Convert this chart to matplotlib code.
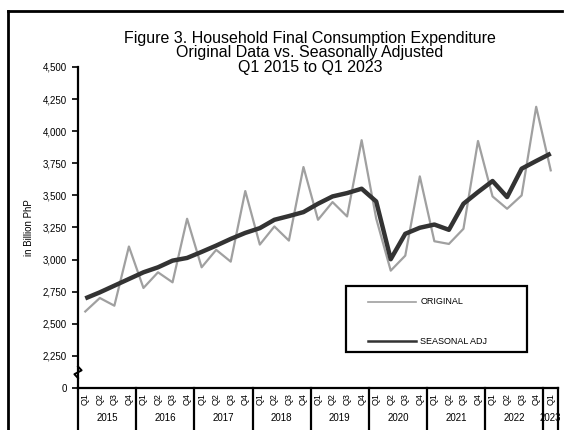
import matplotlib
matplotlib.use('Agg')
import matplotlib.pyplot as plt
from matplotlib.lines import Line2D
from matplotlib.patches import Rectangle
import matplotlib.transforms as mtransforms

plt.rcParams['font.family'] = ['Liberation Sans', 'DejaVu Sans']

years = ['2015', '2016', '2017', '2018', '2019', '2020', '2021', '2022', '2023']
quarters = ['Q1', 'Q2', 'Q3', 'Q4']

original = [2596, 2701, 2641, 3102,
            2779, 2901, 2823, 3318,
            2940, 3076, 2984, 3534,
            3117, 3258, 3148, 3721,
            3310, 3448, 3336, 3930,
            3320, 2914, 3031, 3648,
            3143, 3122, 3240, 3924,
            3492, 3396, 3500, 4190,
            3695]
seasonal = [2698, 2745, 2797, 2849,
            2901, 2940, 2992, 3013,
            3060, 3109, 3161, 3208,
            3245, 3310, 3339, 3370,
            3435, 3492, 3518, 3552,
            3453, 3003, 3201, 3248,
            3273, 3232, 3435, 3526,
            3612, 3487, 3708, 3768,
            3826]
series_names = ['ORIGINAL', 'SEASONAL ADJ']

# y axis is broken: the bottom tick stands for 0
ytick_pos = [2000, 2250, 2500, 2750, 3000, 3250, 3500, 3750, 4000, 4250, 4500]
ytick_lab = ['0', '2,250', '2,500', '2,750', '3,000', '3,250', '3,500',
             '3,750', '4,000', '4,250', '4,500']

title = ('Figure 3. Household Final Consumption Expenditure\n'
         'Original Data vs. Seasonally Adjusted\n'
         'Q1 2015 to Q1 2023')

fig = plt.figure(figsize=(5.66, 4.30), dpi=100)
ax = fig.add_axes([78 / 566, 1 - 388 / 430, 480 / 566, 321 / 430])

xs = list(range(len(original)))
ax.plot(xs, original, color='#a0a0a0', linewidth=1.6, zorder=3)
ax.plot(xs, seasonal, color='#333333', linewidth=3.2, zorder=4,
        solid_capstyle='butt')

ax.set_xlim(-0.5, len(xs) - 0.5)
ax.set_ylim(2000, 4500)
ax.set_yticks(ytick_pos)
ax.set_yticklabels(ytick_lab, fontsize=7)
ax.tick_params(axis='y', length=4, width=1.2, pad=4)
ax.set_xticks([])
for s in ['top', 'right']:
    ax.spines[s].set_visible(False)
for s in ['left', 'bottom']:
    ax.spines[s].set_linewidth(1.6)
ax.set_ylabel('in Billion PhP', fontsize=7, labelpad=6)

# category axis: quarter labels, year labels, separators
trans = mtransforms.blended_transform_factory(ax.transData, ax.transAxes)
for i in xs:
    ax.text(i, -0.033, quarters[i % 4], rotation=90, fontsize=6.5,
            ha='center', va='center', transform=trans, clip_on=False)
for k, yr in enumerate(years):
    start = k * 4
    end = min(start + 3, len(xs) - 1)
    ax.text((start + end) / 2, -0.095, yr, fontsize=7, ha='center',
            va='center', transform=trans, clip_on=False)
seps = [k * 4 - 0.5 for k in range(len(years))] + [len(xs) - 0.5]
for sx in seps:
    ax.plot([sx, sx], [0, -0.14], color='black', linewidth=1.6,
            transform=trans, clip_on=False)

# axis break mark
ax.plot([-0.5, -0.25, -0.75, -0.5], [0.067, 0.055, 0.043, 0.031],
        color='black', linewidth=1.4, transform=trans, clip_on=False,
        zorder=6)

# legend box drawn by hand to match the original placement
ax.add_patch(Rectangle((0.558, 0.112), 0.377, 0.206, transform=ax.transAxes,
                       facecolor='white', edgecolor='black', linewidth=1.6,
                       zorder=5))
legend_styles = [('#a0a0a0', 1.2, 0.268), ('#333333', 1.8, 0.146)]
for name, (col, lw, ly) in zip(series_names, legend_styles):
    ax.plot([0.604, 0.704], [ly, ly], color=col, linewidth=lw,
            transform=ax.transAxes, zorder=6)
    ax.text(0.713, ly, name, fontsize=6.5, va='center', ha='left',
            transform=ax.transAxes, zorder=6)

fig.text(310 / 566, 1 - 53 / 430, title, fontsize=11.5, ha='center',
         va='center', linespacing=0.95)

# outer frame of the figure
fig.add_artist(Line2D([8 / 566, 8 / 566], [0, 1 - 10.5 / 430],
                      color='black', linewidth=2))
fig.add_artist(Line2D([8 / 566, 562 / 566], [1 - 10.5 / 430, 1 - 10.5 / 430],
                      color='black', linewidth=2))

fig.savefig('out.png', dpi=100)
